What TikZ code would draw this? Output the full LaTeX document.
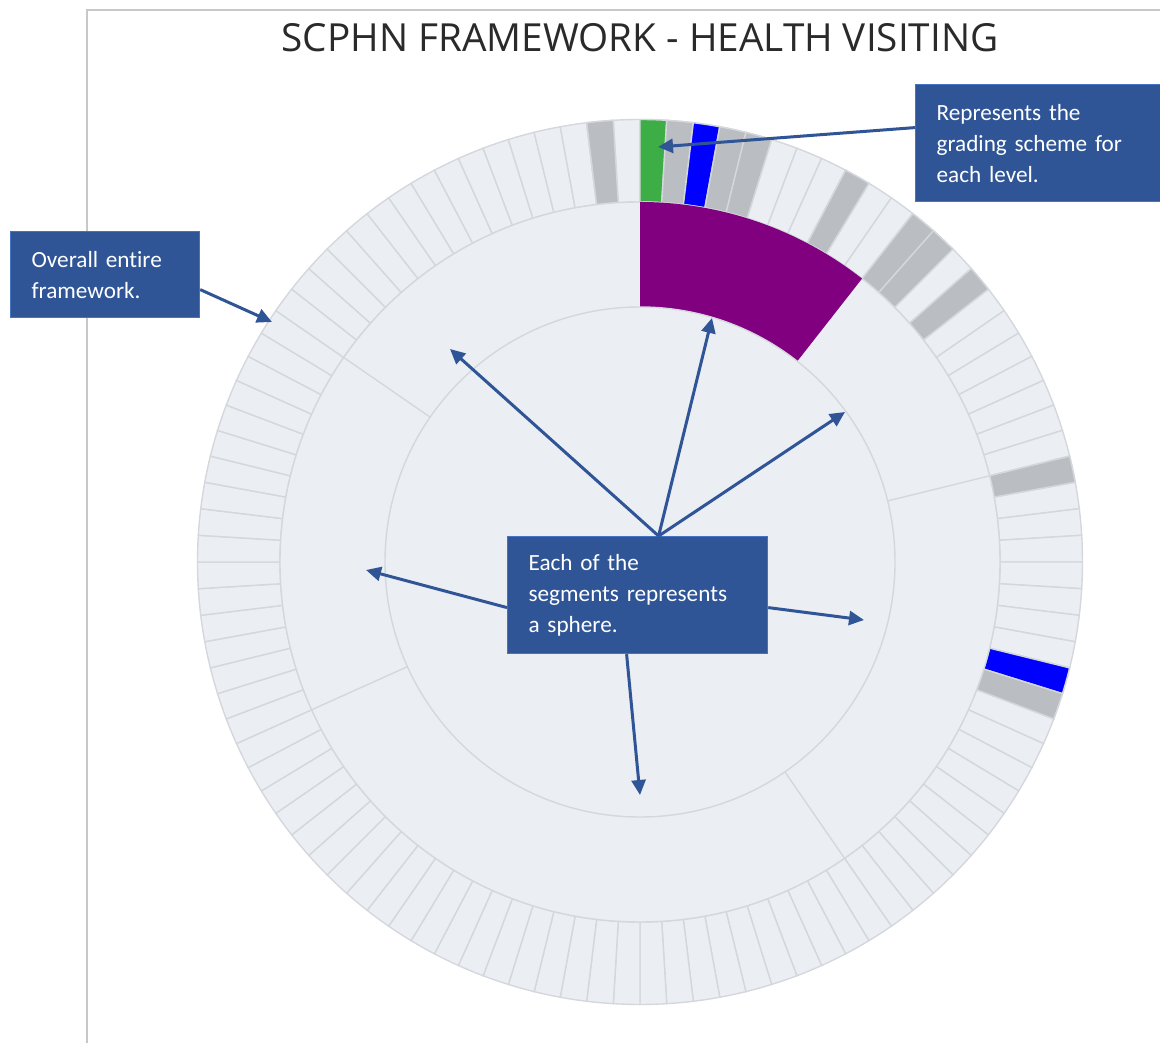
\documentclass[tikz,border=0pt]{standalone}
\usepackage{fontspec}
\setmainfont{Carlito}[Ligatures=NoCommon]
\newfontfamily\titlefont{Open Sans}
\usetikzlibrary{arrows.meta}

\definecolor{ringfill}{HTML}{EBEEF3}
\definecolor{ringline}{HTML}{D4D7DC}
\definecolor{gradegrey}{HTML}{BABDC2}
\definecolor{gradegreen}{HTML}{3DAE46}
\definecolor{gradeblue}{HTML}{0000FF}
\definecolor{spherepurple}{HTML}{800080}
\definecolor{notefill}{HTML}{2F5597}
\definecolor{noteedge}{HTML}{4472C4}
\definecolor{framegrey}{HTML}{C8C8C8}
\definecolor{titlegrey}{HTML}{2A2A2A}

\tikzset{
	note/.style={anchor=north west, fill=notefill, draw=noteedge, line width=0.6pt, text=white, align=left, inner xsep=10.5pt, inner ysep=0pt, font=\fontsize{11.6pt}{15.5pt}\selectfont},
	pointer/.style={draw=notefill, line width=1.5pt, -{Triangle[length=7.5pt,width=7pt]}},
	segment/.style={fill=ringfill, draw=ringline, line width=0.7pt}
}

\begin{document}
\begin{tikzpicture}[x=0.5pt,y=0.5pt]
		
		\useasboundingbox (0,0) rectangle (1160,1043);
		\draw[framegrey, line width=1pt] (87,0) -- (87,1032.5) -- (1160,1032.5);
		
		\node[anchor=base, text=titlegrey, font=\titlefont\fontsize{19.35pt}{23pt}\selectfont] (title) at (640,991) {SCPHN FRAMEWORK - HEALTH VISITING};
		
		\begin{scope}[shift={(640,481)}]
			\foreach \k [evaluate=\k as \a using {90-\k*(360/104)}, evaluate=\k as \b using {90-(\k+1)*(360/104)}] in {0,...,103}
				\filldraw[segment] (\a:180pt) arc[start angle=\a, end angle=\b, radius=180pt] -- (\b:221.25pt) arc[start angle=\b, end angle=\a, radius=221.25pt] -- cycle;
			\foreach \k/\c [evaluate=\k as \a using {90-\k*(360/104)}, evaluate=\k as \b using {90-(\k+1)*(360/104)}] in {0/gradegreen,1/gradegrey,2/gradeblue,3/gradegrey,4/gradegrey,8/gradegrey,11/gradegrey,12/gradegrey,14/gradegrey,22/gradegrey,30/gradeblue,31/gradegrey,102/gradegrey}
				\filldraw[segment, fill=\c] (\a:180pt) arc[start angle=\a, end angle=\b, radius=180pt] -- (\b:221.25pt) arc[start angle=\b, end angle=\a, radius=221.25pt] -- cycle;
			
			\filldraw[segment] (0,0) circle (180pt);
			\fill[spherepurple] (90:127.5pt) arc[start angle=90, end angle={90-11*(360/104)}, radius=127.5pt] -- ({90-11*(360/104)}:180pt) arc[start angle={90-11*(360/104)}, end angle=90, radius=180pt] -- cycle;
			\foreach \n in {22,42,71,88}
				\draw[ringline, line width=0.7pt] ({90-\n*(360/104)}:127.5pt) -- ({90-\n*(360/104)}:180pt);
			\filldraw[segment] (0,0) circle (127.5pt);
		\end{scope}
		
		\node[note, text width=106.5pt, minimum height=58.5pt] (grade) at (915,959) {Represents the\\grading scheme for\\each level.};
		\node[note, text width=73.5pt, minimum height=43pt] (whole) at (10,812) {Overall entire\\framework.};
		\node[note, text width=109pt, minimum height=58.5pt] (sphere) at (507,507) {Each of the\\segments represents\\a sphere.};
		
		\coordinate (gradetip) at (658,896);
		\coordinate (wholetip) at (272,721);
		\coordinate (tipA) at (450,694);
		\coordinate (tipB) at (712,725);
		\coordinate (tipC) at (845,631);
		\coordinate (tipD) at (366,473);
		\coordinate (tipE) at (864,423);
		\coordinate (tipF) at (640,248);
		
		\draw[pointer] ([yshift=7.75pt]grade.west) -- (gradetip);
		\draw[pointer] ([yshift=-7.5pt]whole.east) -- (wholetip);
		\draw[pointer] ([xshift=10.5pt]sphere.north) -- (tipA);
		\draw[pointer] ([xshift=10.5pt]sphere.north) -- (tipB);
		\draw[pointer] ([xshift=10.5pt]sphere.north) -- (tipC);
		\draw[pointer] ([yshift=-6.25pt]sphere.west) -- (tipD);
		\draw[pointer] ([yshift=-6.25pt]sphere.east) -- (tipE);
		\draw[pointer] ([xshift=-5.5pt]sphere.south) -- (tipF);
		
	\end{tikzpicture}
\end{document}
